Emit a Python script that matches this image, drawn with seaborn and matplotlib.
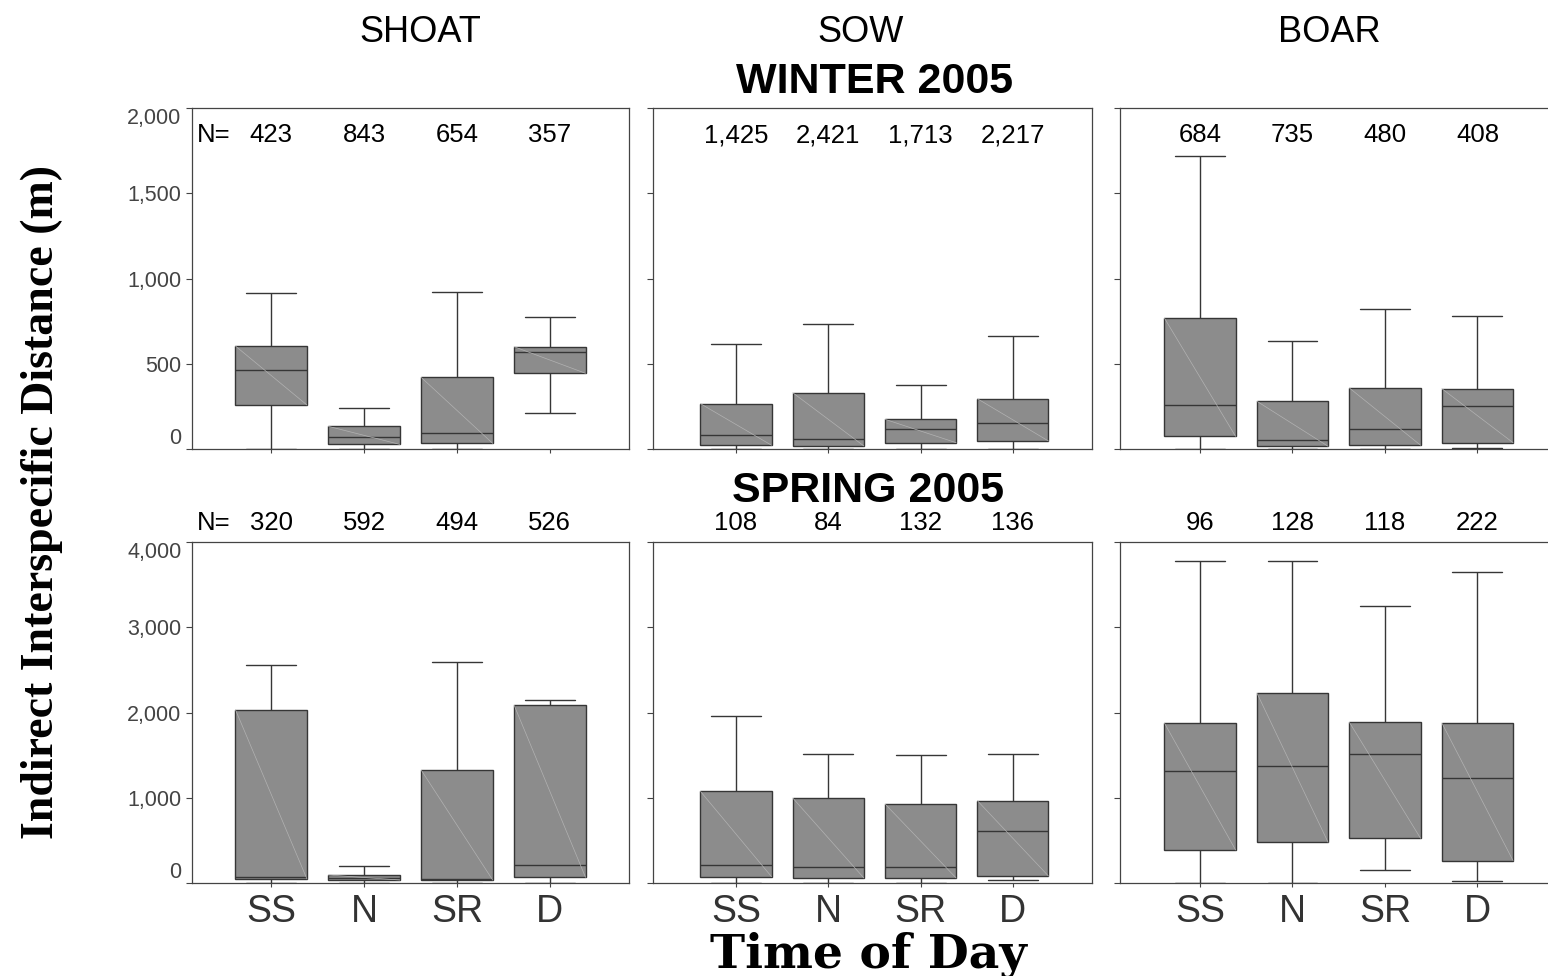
import matplotlib
matplotlib.use("Agg")
import matplotlib.pyplot as plt
import matplotlib.transforms as mtransforms
import numpy as np
import pandas as pd
import seaborn as sns

# ---- data: five-number summaries (low whisker, Q1, median, Q3, high whisker) ----
times = ["SS", "N", "SR", "D"]
animals = ["SHOAT", "SOW", "BOAR"]
seasons = ["WINTER 2005", "SPRING 2005"]

winter_shoat = [[0, 258, 463, 604, 917], [0, 27, 70, 133, 240],
                [0, 33, 96, 420, 919], [209, 444, 571, 600, 774]]
winter_sow = [[0, 22, 80, 266, 618], [0, 18, 57, 330, 735],
              [0, 37, 117, 174, 373], [0, 47, 152, 295, 665]]
winter_boar = [[0, 74, 258, 768, 1720], [0, 16, 51, 280, 633],
               [0, 22, 117, 358, 821], [3, 37, 252, 354, 778]]

spring_shoat = [[0, 47, 74, 2033, 2561], [0, 35, 60, 94, 199],
                [0, 35, 47, 1325, 2589], [0, 66, 207, 2088, 2143]]
spring_sow = [[0, 74, 211, 1075, 1963], [0, 59, 184, 997, 1517],
              [0, 59, 184, 927, 1498], [35, 82, 614, 966, 1517]]
spring_boar = [[0, 387, 1310, 1877, 3781], [0, 477, 1369, 2229, 3781],
               [152, 524, 1510, 1885, 3249], [20, 262, 1232, 1877, 3645]]

# sample sizes per box
winter_n_shoat = [423, 843, 654, 357]
winter_n_sow = [1425, 2421, 1713, 2217]
winter_n_boar = [684, 735, 480, 408]
spring_n_shoat = [320, 592, 494, 526]
spring_n_sow = [108, 84, 132, 136]
spring_n_boar = [96, 128, 118, 222]

winter_ticks = [0, 500, 1000, 1500, 2000]
spring_ticks = [0, 1000, 2000, 3000, 4000]

summaries = {
    ("WINTER 2005", "SHOAT"): winter_shoat, ("WINTER 2005", "SOW"): winter_sow,
    ("WINTER 2005", "BOAR"): winter_boar, ("SPRING 2005", "SHOAT"): spring_shoat,
    ("SPRING 2005", "SOW"): spring_sow, ("SPRING 2005", "BOAR"): spring_boar,
}
counts = {
    ("WINTER 2005", "SHOAT"): winter_n_shoat, ("WINTER 2005", "SOW"): winter_n_sow,
    ("WINTER 2005", "BOAR"): winter_n_boar, ("SPRING 2005", "SHOAT"): spring_n_shoat,
    ("SPRING 2005", "SOW"): spring_n_sow, ("SPRING 2005", "BOAR"): spring_n_boar,
}
yticks = {"WINTER 2005": winter_ticks, "SPRING 2005": spring_ticks}

rows = []
for (season, animal), boxes in summaries.items():
    for t, five in zip(times, boxes):
        for v in five:
            rows.append({"season": season, "animal": animal, "time": t, "dist": v})
df = pd.DataFrame(rows)

# ---- style ----
sns.set_style("white")
plt.rcParams["font.family"] = ["Liberation Sans", "DejaVu Sans"]
plt.rcParams["text.color"] = "black"

W, H = 1548, 976
fig = plt.figure(figsize=(W / 100, H / 100), dpi=100)

def rect(x0, y_top, w, h):
    return [x0 / W, 1 - (y_top + h) / H, w / W, h / H]

col_left = [192, 653, 1120]
col_width = [437, 439, 437]
col_xlim = [(-0.853, 3.853), (-0.899, 3.857), (-0.865, 3.86)]
row_top = [108, 542]
panel_h = 341

spine_col = "#444444"
box_fill = "#8c8c8c"
line_col = "#363636"

for r, season in enumerate(seasons):
    for c, animal in enumerate(animals):
        ax = fig.add_axes(rect(col_left[c], row_top[r], col_width[c], panel_h))
        sub = df[(df.season == season) & (df.animal == animal)]
        sns.boxplot(data=sub, x="time", y="dist", order=times, ax=ax,
                    color=box_fill, linecolor=line_col, linewidth=1.0,
                    saturation=1, width=0.77, whis=(0, 100),
                    showfliers=False, capwidths=0.54)

        # faint diagonal sheen across each box
        for p in ax.patches:
            v = p.get_path().vertices
            x0, x1 = v[:, 0].min(), v[:, 0].max()
            y0, y1 = v[:, 1].min(), v[:, 1].max()
            ax.plot([x0, x1], [y1, y0], color="#b2b2b2", lw=0.5, zorder=3)

        ticks = yticks[season]
        ax.set_xlim(*col_xlim[c])
        ax.set_ylim(ticks[0], ticks[-1])
        ax.set_yticks(ticks)
        ax.set_yticklabels([f"{t:,}" for t in ticks])
        ax.set_xlabel("")
        ax.set_ylabel("")
        for s in ax.spines.values():
            s.set_visible(True)
            s.set_color(spine_col)
            s.set_linewidth(0.9)

        ax.tick_params(axis="y", direction="out", length=4, width=0.8,
                       color=spine_col, pad=3.5, labelsize=15.5,
                       labelcolor="#444444", left=True)
        ax.tick_params(axis="x", direction="out", length=3, width=0.8,
                       color=spine_col, pad=5, labelsize=27,
                       labelcolor="#333333", bottom=True)
        if c > 0:
            ax.tick_params(labelleft=False)
        else:
            labs = ax.get_yticklabels()
            labs[0].set_va("bottom")
            labs[-1].set_va("top")
        if r == 0:
            ax.tick_params(labelbottom=False)

        # sample-size row
        trans = mtransforms.blended_transform_factory(ax.transData, ax.transAxes)
        ny = 0.9 if r == 0 else 1.035
        for i, n in enumerate(counts[(season, animal)]):
            ax.text(i, ny, f"{n:,}", transform=trans, ha="center",
                    va="baseline", fontsize=18.5, color="black")
        if c == 0:
            ax.text(0.05, ny, "N=", transform=ax.transAxes, ha="center",
                    va="baseline", fontsize=18.5, color="black")

# column headers
for x, name in zip([420, 861, 1329], animals):
    fig.text(x / W, 1 - 42 / H, name, ha="center", va="baseline",
             fontsize=26, color="black")

# season headers
fig.text(875 / W, 1 - 93 / H, seasons[0], ha="center", va="baseline",
         fontsize=31, fontweight="bold", color="black")
fig.text(868 / W, 1 - 502 / H, seasons[1], ha="center", va="baseline",
         fontsize=31, fontweight="bold", color="black")

# axis titles
fig.text(868 / W, 1 - 967 / H, "Time of Day", ha="center", va="baseline",
         fontsize=34, fontweight="bold", color="black",
         family=["DejaVu Serif"])
fig.text(42 / W, 1 - 502 / H, "Indirect Interspecific Distance (m)",
         rotation=90, ha="center", va="center", fontsize=33,
         fontweight="bold", color="black",
         family=["Liberation Serif", "DejaVu Serif"])

fig.savefig("out.png", dpi=100, facecolor="white")
